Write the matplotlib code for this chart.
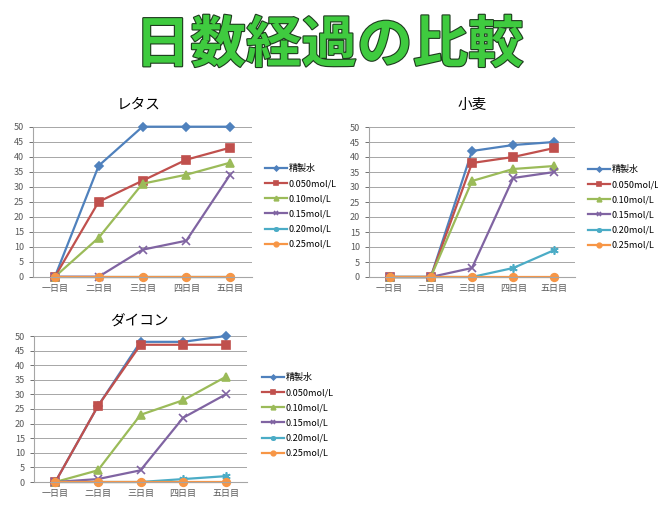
import matplotlib
matplotlib.use("Agg")
import matplotlib.pyplot as plt
import matplotlib.patheffects as pe

plt.rcParams["font.family"] = ["Noto Sans CJK JP", "DejaVu Sans"]

days = ["一日目", "二日目", "三日目", "四日目", "五日目"]
labels = ["精製水", "0.050mol/L", "0.10mol/L", "0.15mol/L", "0.20mol/L", "0.25mol/L"]

lettuce = [
    [0, 37, 50, 50, 50],
    [0, 25, 32, 39, 43],
    [0, 13, 31, 34, 38],
    [0, 0, 9, 12, 34],
    [0, 0, 0, 0, 0],
    [0, 0, 0, 0, 0],
]
wheat = [
    [0, 0, 42, 44, 45],
    [0, 0, 38, 40, 43],
    [0, 0, 32, 36, 37],
    [0, 0, 3, 33, 35],
    [0, 0, 0, 3, 9],
    [0, 0, 0, 0, 0],
]
radish = [
    [0, 26, 48, 48, 50],
    [0, 26, 47, 47, 47],
    [0, 4, 23, 28, 36],
    [0, 1, 4, 22, 30],
    [0, 0, 0, 1, 2],
    [0, 0, 0, 0, 0],
]

colors = ["#4F81BD", "#C0504D", "#9BBB59", "#8064A2", "#4BACC6", "#F79646"]
markers = ["D", "s", "^", "x", (6, 2, 0), "o"]
msizes = [4, 5.5, 5.5, 6, 6, 5.5]

W, H = 658, 509
fig = plt.figure(figsize=(W / 100, H / 100), dpi=100)


def add_chart(series, name, box, title_xy, legend_xy):
    l, r, t, b = box
    ax = fig.add_axes([l / W, 1 - b / H, (r - l) / W, (b - t) / H])
    for i, vals in enumerate(series):
        ax.plot(range(len(days)), vals, color=colors[i], marker=markers[i],
                ms=msizes[i], lw=1.6, mew=1.2, label=labels[i], clip_on=False)
    ax.set_xlim(-0.5, len(days) - 0.5)
    ax.set_ylim(0, 50)
    ax.set_yticks(range(0, 51, 5))
    ax.set_xticks(range(len(days)))
    ax.set_xticklabels(days)
    ax.tick_params(labelsize=6.5, colors="#595959", length=3, width=0.6)
    ax.tick_params(axis="x", length=0, pad=5)
    ax.grid(axis="y", color="#A6A6A6", lw=0.7)
    ax.set_axisbelow(True)
    for s in ["top", "right"]:
        ax.spines[s].set_visible(False)
    for s in ["left", "bottom"]:
        ax.spines[s].set_color("#A6A6A6")
        ax.spines[s].set_linewidth(0.8)
    fig.text(title_xy[0] / W, 1 - title_xy[1] / H, name, fontsize=10.5,
             ha="center", va="center")
    ax.legend(loc="upper left", bbox_to_anchor=(legend_xy[0] / W, 1 - legend_xy[1] / H),
              bbox_transform=fig.transFigure, frameon=False, fontsize=6.5,
              handlelength=2.4, handletextpad=0.2, labelspacing=0.68,
              borderaxespad=0, borderpad=0, markerscale=0.6)
    return ax


add_chart(lettuce, "レタス", (33, 252, 126.7, 276.7), (139, 105), (265, 164))
add_chart(wheat, "小麦", (369, 575, 127, 277), (472, 105), (588, 165))
add_chart(radish, "ダイコン", (34, 247, 336, 482), (139, 322), (262, 373))

fig.text(0.5, 1 - 46 / H, "日数経過の比較", fontsize=40, fontweight="bold",
         color="#3FCB3F", ha="center", va="center",
         path_effects=[pe.withStroke(linewidth=1.6, foreground="#1E3A1E")])

fig.savefig("out.png", dpi=100, facecolor="white")
